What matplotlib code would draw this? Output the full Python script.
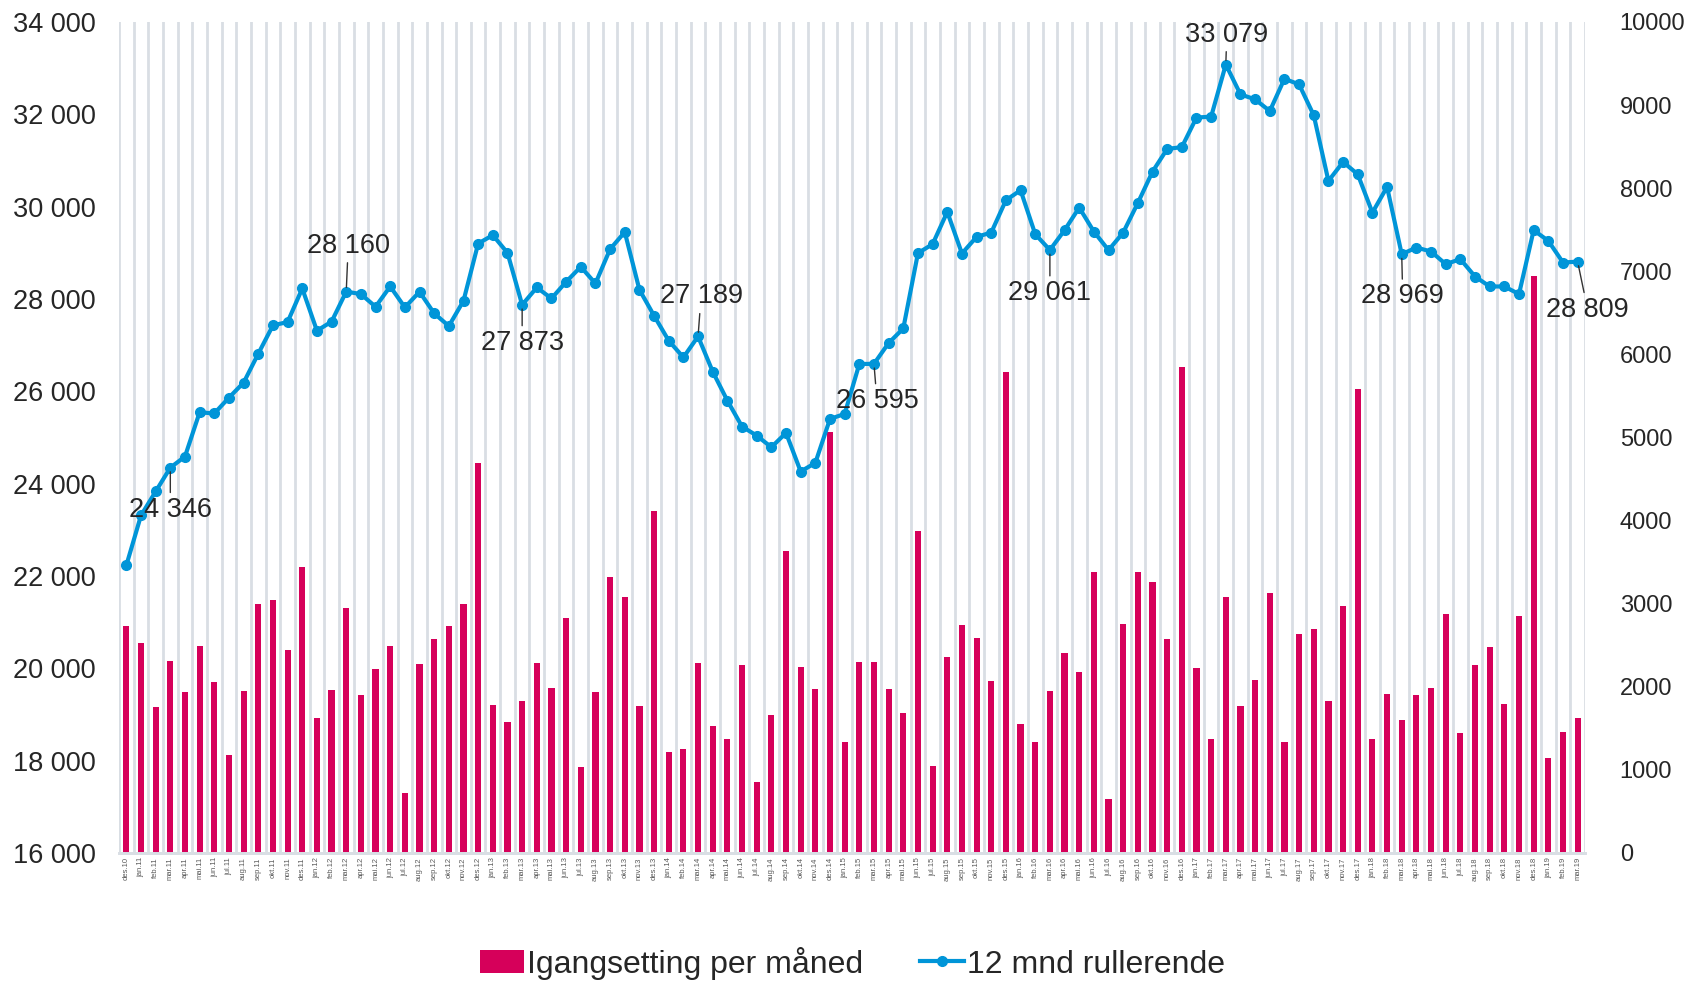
import matplotlib.pyplot as plt
import numpy as np

plt.rcParams['font.family'] = ['Liberation Sans', 'DejaVu Sans']

# month labels des.10 .. mar.19
months = ["jan", "feb", "mar", "apr", "mai", "jun", "jul", "aug", "sep", "okt", "nov", "des"]
years = ["11", "12", "13", "14", "15", "16", "17", "18"]
labels = ["des.10"] + [m + "." + y for y in years for m in months] + ["jan.19", "feb.19", "mar.19"]

# igangsetting per maaned (right axis)
monthly = [2733, 2524, 1751, 2308, 1935, 2492, 2056, 1182, 1951, 3001, 3041, 2440,
           3438, 1619, 1963, 2949, 1899, 2216, 2492, 717, 2272, 2577, 2737, 3001,
           4688, 1779, 1579, 1831, 2284, 1991, 2825, 1034, 1939, 3322, 3085, 1765,
           4120, 1218, 1246, 2284, 1527, 1366, 2260, 849, 1659, 3638, 2232, 1975,
           5065, 1338, 2296, 2296, 1975, 1687, 3875, 1046, 2364, 2740, 2589, 2072,
           5790, 1551, 1338, 1951, 2404, 2176, 3385, 645, 2760, 3385, 3265, 2570,
           5843, 2220, 1366, 3080, 1764, 2084, 3130, 1333, 2630, 2699, 1829, 2977,
           5578, 1375, 1912, 1602, 1898, 1991, 2871, 1440, 2259, 2482, 1787, 2857,
           6942, 1145, 1450, 1625]

# 12 mnd rullerende (left axis)
rolling = [22230, 23311, 23830, 24346, 24587, 25546, 25520, 25863, 26188, 26815, 27428, 27501,
           28228, 27313, 27509, 28160, 28106, 27832, 28271, 27818, 28156, 27688, 27414, 27961,
           29201, 29383, 28999, 27873, 28249, 28011, 28372, 28697, 28336, 29080, 29450, 28200,
           27637, 27096, 26735, 27189, 26426, 25798, 25236, 25041, 24789, 25099, 24263, 24450,
           25402, 25510, 26592, 26595, 27046, 27362, 28993, 29188, 29886, 28985, 29346, 29439,
           30139, 30356, 29404, 29061, 29490, 29980, 29460, 29058, 29439, 30080, 30758, 31250,
           31290, 31930, 31950, 33079, 32432, 32324, 32071, 32770, 32648, 31978, 30557, 30968,
           30701, 29871, 30427, 28969, 29115, 29028, 28755, 28863, 28487, 28271, 28271, 28106,
           29490, 29259, 28790, 28809]

# annotated points: index, text, offset in pixels (dx, dy)
notes = [(3, "24 346", (0, -42)), (15, "28 160", (2, 46)), (27, "27 873", (0, -38)),
         (39, "27 189", (3, 40)), (51, "26 595", (3, -37)), (63, "29 061", (0, -43)),
         (75, "33 079", (1, 30)), (87, "28 969", (1, -42)), (99, "28 809", (10, -48))]

left_ticks = np.arange(16000, 34001, 2000)
left_labels = ["16 000", "18 000", "20 000", "22 000", "24 000", "26 000", "28 000", "30 000", "32 000", "34 000"]
right_ticks = np.arange(0, 10001, 1000)

bar_color = "#D6005A"
line_color = "#0095D8"
grid_color = "#D9DEE4"
text_color = "#262626"

x = np.arange(len(labels))

fig = plt.figure(figsize=(17.05, 9.82), dpi=100)
ax2 = fig.add_axes([0.0698, 0.1314, 0.8598, 0.8462])
ax = ax2.twinx()
ax.yaxis.tick_left()
ax2.yaxis.tick_right()
ax.set_zorder(ax2.get_zorder() + 1)
ax.patch.set_visible(False)

# bars on right axis
ax2.bar(x, monthly, width=0.42, color=bar_color, zorder=2, label="Igangsetting per måned")
ax2.set_ylim(0, 10000)
ax2.set_yticks(right_ticks)
ax2.set_yticklabels([str(t) for t in right_ticks], fontsize=17, color=text_color)
ax2.set_xlim(-0.5, len(x) - 0.5)
ax2.set_xticks(x)
ax2.set_xticklabels(labels, rotation=90, fontsize=5.5, color="#595959")
ax2.set_xticks(np.arange(-0.5, len(x), 1), minor=True)
ax2.grid(which="minor", axis="x", color=grid_color, lw=2)
ax2.set_axisbelow(True)
ax2.tick_params(axis="both", which="both", length=0)
ax2.tick_params(axis="y", pad=25)
ax2.tick_params(axis="x", pad=3)

# line on left axis
ax.plot(x, rolling, color=line_color, lw=3, marker="o", ms=7, label="12 mnd rullerende")
ax.set_ylim(16000, 34000)
ax.set_yticks(left_ticks)
ax.set_yticklabels(left_labels, fontsize=19.5, color=text_color)
ax.tick_params(axis="y", length=0, pad=17)

for a in (ax, ax2):
    for s in ["top", "left", "right"]:
        a.spines[s].set_visible(False)
    a.spines["bottom"].set_color(grid_color)
    a.spines["bottom"].set_linewidth(2)

for i, txt, off in notes:
    ax.annotate(txt, xy=(x[i], rolling[i]), xytext=off, textcoords="offset pixels",
                ha="center", va="center", fontsize=19.5, color=text_color,
                arrowprops=dict(arrowstyle="-", color="#333333", lw=1, shrinkA=1, shrinkB=3))

h1, l1 = ax2.get_legend_handles_labels()
h2, l2 = ax.get_legend_handles_labels()
fig.legend(h1 + h2, l1 + l2, loc="center", bbox_to_anchor=(0.5, 0.0193), ncol=2,
           frameon=False, fontsize=23, handlelength=1.4, columnspacing=1.75,
           handletextpad=0.1, labelcolor=text_color)

fig.savefig("out.png", dpi=100)
